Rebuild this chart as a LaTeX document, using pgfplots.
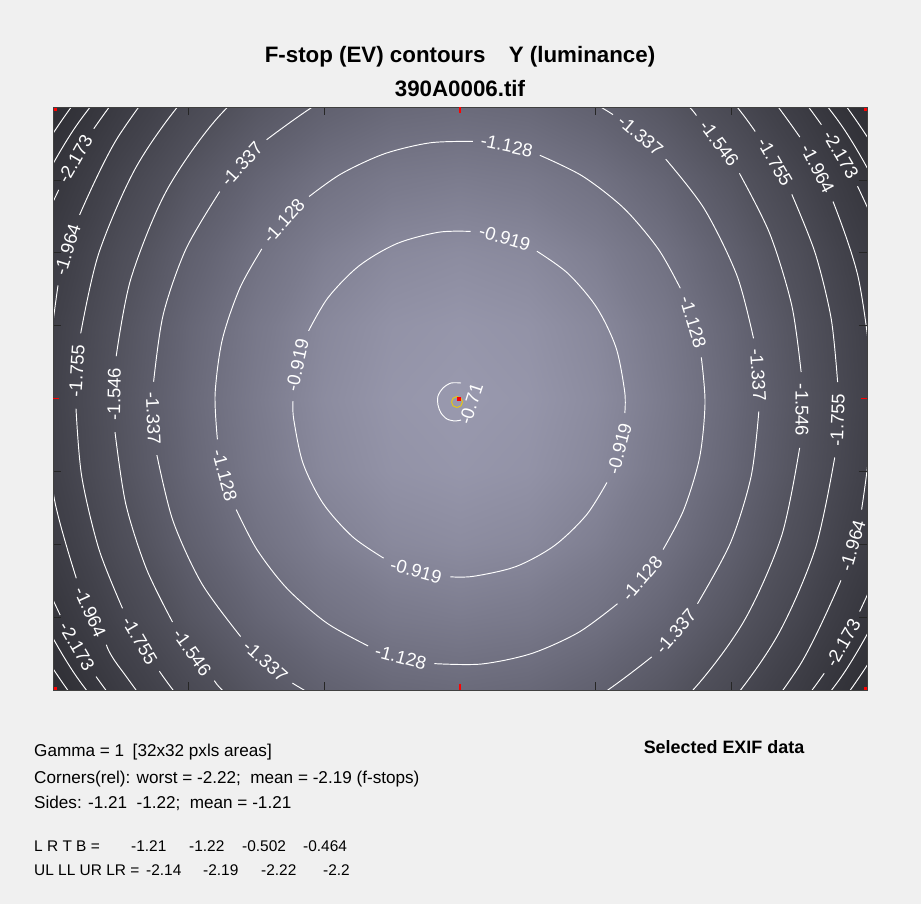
\documentclass[border=0pt]{standalone}
\usepackage{fontspec}
\setmainfont{Liberation Sans}
\usepackage{pgfplots}
\pgfplotsset{compat=1.18}
\definecolor{figbg}{RGB}{240,240,240}
\definecolor{ringy}{RGB}{230,200,20}
\begin{document}
\begin{tikzpicture}[x=1bp,y=1bp,
  lbl/.style={text=white, font=\fontsize{18.5}{18.5}\selectfont, inner sep=0pt}]
\fill[figbg] (0,0) rectangle (921,-904);
\useasboundingbox (0,0) rectangle (921,-904);
\begin{scope}[shift={(53,-107)}]
\begin{axis}[
  at={(0,0)}, anchor=north west,
  scale only axis, width=814bp, height=583bp,
  xmin=53, xmax=867, ymin=107, ymax=690, y dir=reverse,
  axis on top,
  axis line style={draw=black!75, line width=0.6pt},
  tick align=inside, major tick length=8bp,
  tick style={draw=black!85, line width=0.7pt},
  xtick={188.67,324.33,595.67,731.33},
  ytick={179.875,252.75,325.625,471.375,544.25,617.125},
  xticklabels={}, yticklabels={},
  extra x ticks={460}, extra y ticks={398.5},
  extra x tick labels={}, extra y tick labels={},
  extra tick style={tick style={draw=red, line width=1.2pt}, major tick length=6bp},
  colormap={evmap}{rgb255=(44,44,49) rgb255=(54,54,61) rgb255=(66,66,75) rgb255=(81,81,92) rgb255=(100,100,115) rgb255=(123,123,141) rgb255=(153,153,174)},
  point meta min=-2.5, point meta max=-0.7,
  cl/.style={draw=white, line width=0.95pt, smooth, mark=none},
]
\addplot[surf, shader=interp, mesh/cols=13, point meta=explicit] table[meta=c] {
x y c
53 107 -2.416
120.83 107 -2.054
188.67 107 -1.751
256.5 107 -1.516
324.33 107 -1.348
392.17 107 -1.247
460 107 -1.214
527.83 107 -1.247
595.67 107 -1.348
663.5 107 -1.516
731.33 107 -1.751
799.17 107 -2.054
867 107 -2.416
53 179.875 -2.198
120.83 179.875 -1.829
188.67 179.875 -1.526
256.5 179.875 -1.291
324.33 179.875 -1.124
392.17 179.875 -1.023
460 179.875 -0.989
527.83 179.875 -1.023
595.67 179.875 -1.124
663.5 179.875 -1.291
731.33 179.875 -1.526
799.17 179.875 -1.829
867 179.875 -2.198
53 252.75 -2.038
120.83 252.75 -1.668
188.67 252.75 -1.366
256.5 252.75 -1.131
324.33 252.75 -0.963
392.17 252.75 -0.862
460 252.75 -0.828
527.83 252.75 -0.862
595.67 252.75 -0.963
663.5 252.75 -1.131
731.33 252.75 -1.366
799.17 252.75 -1.668
867 252.75 -2.038
53 325.625 -1.941
120.83 325.625 -1.572
188.67 325.625 -1.269
256.5 325.625 -1.034
324.33 325.625 -0.867
392.17 325.625 -0.766
460 325.625 -0.732
527.83 325.625 -0.766
595.67 325.625 -0.867
663.5 325.625 -1.034
731.33 325.625 -1.269
799.17 325.625 -1.572
867 325.625 -1.941
53 398.5 -1.909
120.83 398.5 -1.540
188.67 398.5 -1.237
256.5 398.5 -1.002
324.33 398.5 -0.834
392.17 398.5 -0.734
460 398.5 -0.700
527.83 398.5 -0.734
595.67 398.5 -0.834
663.5 398.5 -1.002
731.33 398.5 -1.237
799.17 398.5 -1.540
867 398.5 -1.909
53 471.375 -1.941
120.83 471.375 -1.572
188.67 471.375 -1.269
256.5 471.375 -1.034
324.33 471.375 -0.867
392.17 471.375 -0.766
460 471.375 -0.732
527.83 471.375 -0.766
595.67 471.375 -0.867
663.5 471.375 -1.034
731.33 471.375 -1.269
799.17 471.375 -1.572
867 471.375 -1.941
53 544.25 -2.038
120.83 544.25 -1.668
188.67 544.25 -1.366
256.5 544.25 -1.131
324.33 544.25 -0.963
392.17 544.25 -0.862
460 544.25 -0.828
527.83 544.25 -0.862
595.67 544.25 -0.963
663.5 544.25 -1.131
731.33 544.25 -1.366
799.17 544.25 -1.668
867 544.25 -2.038
53 617.125 -2.198
120.83 617.125 -1.829
188.67 617.125 -1.526
256.5 617.125 -1.291
324.33 617.125 -1.124
392.17 617.125 -1.023
460 617.125 -0.989
527.83 617.125 -1.023
595.67 617.125 -1.124
663.5 617.125 -1.291
731.33 617.125 -1.526
799.17 617.125 -1.829
867 617.125 -2.198
53 690 -2.416
120.83 690 -2.054
188.67 690 -1.751
256.5 690 -1.516
324.33 690 -1.348
392.17 690 -1.247
460 690 -1.214
527.83 690 -1.247
595.67 690 -1.348
663.5 690 -1.516
731.33 690 -1.751
799.17 690 -2.054
867 690 -2.416
};
% -0.71
\addplot[cl] coordinates {(461,383) (451,383) (443,388) (438,396) (438,405) (441,413) (447,419) (455,421) (461,420)};
% -0.919
\addplot[cl] coordinates {(606.9,482.5) (586.2,515.2) (554.3,545.7) (515.8,566.6) (473.4,576.3) (450.3,576.8)};
\addplot[cl] coordinates {(383.6,558.1) (352.3,536.5) (323,503.3) (303,463.2) (293.7,419.1) (293,401)};
\addplot[cl] coordinates {(308.6,330.8) (328.2,297.4) (359.1,265.8) (396.8,243.6) (438.7,232.2) (470.6,231.4)};
\addplot[cl] coordinates {(536.9,251.2) (567.9,273.4) (596.6,307.3) (616,347.6) (624.7,391.9) (624.8,413)};
% -1.128
\addplot[cl] coordinates {(701.3,357.4) (705,403) (699.6,457.5) (683.8,509.6) (663.1,549.5)};
\addplot[cl] coordinates {(617.5,603.7) (578.8,632.2) (531.5,653.5) (481.3,664) (434.4,663.6)};
\addplot[cl] coordinates {(368.1,645.9) (326.5,622.8) (286.8,588.2) (256.9,549.5) (236.2,509.6)};
\addplot[cl] coordinates {(217.4,439.4) (215.1,393.9) (222.3,339.6) (239.8,288.2) (261.8,248.9)};
\addplot[cl] coordinates {(309.1,196.5) (341.2,173.8) (384.3,153.8) (430.1,142.8) (472.8,141.4)};
\addplot[cl] coordinates {(539.9,155.3) (582.5,176.1) (623.9,208.3) (658.2,248.9) (680.3,288.2)};
% -1.337
\addplot[cl] coordinates {(758.8,411.5) (751.1,476.4) (730.5,542.7) (697.5,603.7)};
\addplot[cl] coordinates {(651.7,656.9) (588.7,702.2) (513.9,730) (434.9,735.2) (357.2,717.9) (292.4,683.1)};
\addplot[cl] coordinates {(240.6,636.5) (201.8,583.6) (173,520.9) (156.9,455.1)};
\addplot[cl] coordinates {(153.6,381.7) (163.3,314.2) (186,248.9) (219.7,191.6)};
\addplot[cl] coordinates {(266.6,139.7) (332.7,94.8) (408.7,70) (487.7,67.8) (564.5,88.1) (613,114.6)};
\addplot[cl] coordinates {(665.7,159.1) (704.2,208.7) (736.9,275.4) (753.5,338.3)};
% -1.546
\addplot[cl] coordinates {(799.6,447.9) (781.4,536.4) (743.2,622.4) (688.1,695.2) (619.3,750.7) (541.2,785.1) (458,797) (374.8,785.1) (296.7,750.7) (227.9,695.2) (214.4,680.6)};
\addplot[cl] coordinates {(172.5,622) (146.3,568.5) (125.7,503.6) (115,432.1)};
\addplot[cl] coordinates {(116.2,356.2) (130.9,278.6) (166.3,191.1) (218.9,116.3) (286,58.1) (363.1,20.4) (446,5.2) (529.6,13.7) (608.7,45) (679.2,97.7) (696.4,115.5)};
\addplot[cl] coordinates {(739.4,173.3) (769.7,233.5) (791.7,305.2) (801.1,372)};
% -1.755
\addplot[cl] coordinates {(834.7,457.5) (815.1,549.1) (776.7,637) (721.8,712.3) (647.5,776) (555.7,819.3) (457,834) (358.3,819.3) (266.5,776) (192.2,712.3) (159.4,671.2)};
\addplot[cl] coordinates {(122.5,608.3) (98.9,549.1) (81.7,476.3) (76,408.6)};
\addplot[cl] coordinates {(80.7,333.3) (98.9,252.9) (137.3,165) (192.2,89.7) (266.5,26) (358.3,-17.3) (457,-32) (555.7,-17.3) (647.5,26) (721.8,89.7) (755.2,131.5)};
\addplot[cl] coordinates {(791.8,194.4) (815.1,252.9) (831.1,318.3) (837.6,382.1)};
% -1.964
\addplot[cl] coordinates {(840.9,580.4) (798.1,667.9) (725.2,757.2) (600.6,838.1) (459,866) (317.4,838.1) (192.8,757.2) (119.9,667.9) (106.4,644.7)};
\addplot[cl] coordinates {(76.3,578.2) (54.1,497.7) (45,401) (58,285.4)};
\addplot[cl] coordinates {(79.6,214.9) (119.9,134.1) (192.8,44.8) (317.4,-36.1) (459,-64) (600.6,-36.1) (725.2,44.8) (799.8,137)};
\addplot[cl] coordinates {(833,201.5) (858.9,280.6) (873,401) (861.6,509.5)};
% -2.173
\addplot[cl] coordinates {(37.9,240.3) (49.5,209.7) (58.8,189.8)};
\addplot[cl] coordinates {(93.8,128.7) (113.1,102.1) (142.3,68.7)};
\addplot[cl] coordinates {(775.7,68.7) (802.2,98.8) (821.4,124.7)};
\addplot[cl] coordinates {(857.5,186.2) (871.6,217.2) (885,255.8)};
\addplot[cl] coordinates {(885,546.2) (871.6,584.8) (859.6,611.5)};
\addplot[cl] coordinates {(824.2,673.3) (807.1,696.6) (781.1,727.6)};
\addplot[cl] coordinates {(136.9,727.6) (110.9,696.6) (96.1,676.6)};
\addplot[cl] coordinates {(60.2,615.1) (46.4,584.8) (33,546.2)};
% -2.382
\addplot[cl] coordinates {(6.9,277.2) (35,198.8) (75.7,126.6) (128.1,63.1) (190.4,9.5)};
\addplot[cl] coordinates {(727.6,9.5) (789.9,63.1) (842.3,126.6) (883,198.8) (911.1,277.2)};
\addplot[cl] coordinates {(911.1,524.8) (883,603.2) (842.3,675.4) (789.9,738.9) (727.6,792.5)};
\addplot[cl] coordinates {(190.4,792.5) (128.1,738.9) (75.7,675.4) (35,603.2) (6.9,524.8)};
% -2.591
\addplot[cl] coordinates {(3.1,233.4) (39,156) (87.5,85.9) (147.1,25.7)};
\addplot[cl] coordinates {(770.9,25.7) (830.5,85.9) (879,156) (914.9,233.4)};
\addplot[cl] coordinates {(914.9,568.6) (879,646) (830.5,716.1) (770.9,776.3)};
\addplot[cl] coordinates {(147.1,776.3) (87.5,716.1) (39,646) (3.1,568.6)};
% centre marker
\addplot[only marks, mark=o, mark size=5.5pt, mark options={draw=ringy, line width=1pt}] coordinates {(457,402)};
\addplot[only marks, mark=square*, mark size=1.4pt, mark options={draw=red, fill=red}] coordinates {(459,399)};
% labels
\node[lbl, rotate=72] at (axis cs:471,404) {-0.71};
\node[lbl, rotate=-16.6] at (axis cs:504.8,237.7) {-0.919};
\node[lbl, rotate=77.5] at (axis cs:297.3,365.1) {-0.919};
\node[lbl, rotate=75.6] at (axis cs:619.4,448.8) {-0.919};
\node[lbl, rotate=-15.6] at (axis cs:416,571.1) {-0.919};
\node[lbl, rotate=49.9] at (axis cs:642,578.3) {-1.128};
\node[lbl, rotate=-15] at (axis cs:400.7,657.2) {-1.128};
\node[lbl, rotate=-75] at (axis cs:224.6,475.3) {-1.128};
\node[lbl, rotate=47.9] at (axis cs:283.8,220.9) {-1.128};
\node[lbl, rotate=-11.7] at (axis cs:506.8,145.7) {-1.128};
\node[lbl, rotate=-73.1] at (axis cs:693,322) {-1.128};
\node[lbl, rotate=49.4] at (axis cs:675.7,631.6) {-1.337};
\node[lbl, rotate=-41.8] at (axis cs:265.4,661.3) {-1.337};
\node[lbl, rotate=-87.3] at (axis cs:153.3,418.4) {-1.337};
\node[lbl, rotate=47.9] at (axis cs:241.8,164.2) {-1.337};
\node[lbl, rotate=-40.3] at (axis cs:640.5,135.3) {-1.337};
\node[lbl, rotate=-86] at (axis cs:758.1,374.9) {-1.337};
\node[lbl, rotate=-90] at (axis cs:801.9,410) {-1.546};
\node[lbl, rotate=-54.5] at (axis cs:192.1,652.5) {-1.546};
\node[lbl, rotate=89.1] at (axis cs:114.1,394.1) {-1.546};
\node[lbl, rotate=-53.3] at (axis cs:719.1,143.2) {-1.546};
\node[lbl, rotate=87.8] at (axis cs:837.6,420) {-1.755};
\node[lbl, rotate=-59.7] at (axis cs:139.6,640.5) {-1.755};
\node[lbl, rotate=86.5] at (axis cs:76.8,370.7) {-1.755};
\node[lbl, rotate=-59.8] at (axis cs:774.8,162) {-1.755};
\node[lbl, rotate=73.8] at (axis cs:852.6,545.5) {-1.964};
\node[lbl, rotate=-65.6] at (axis cs:90.1,612.1) {-1.964};
\node[lbl, rotate=72.9] at (axis cs:67.4,249.4) {-1.964};
\node[lbl, rotate=-62.8] at (axis cs:817.5,168.5) {-1.964};
\node[lbl, rotate=60.2] at (axis cs:75.1,159) {-2.173};
\node[lbl, rotate=-59.6] at (axis cs:840.7,154.7) {-2.173};
\node[lbl, rotate=60.2] at (axis cs:843,643) {-2.173};
\node[lbl, rotate=-59.7] at (axis cs:76.9,646.3) {-2.173};
\addplot[only marks, mark=square*, mark size=1pt, mark options={draw=red, fill=red}] coordinates {(55,109) (865,109) (55,688) (865,688)};
\end{axis}
\end{scope}
% titles
\node[anchor=base, font=\fontsize{22.4}{26}\selectfont\bfseries] at (460,-62) {F-stop (EV) contours\hspace{1.05em}Y (luminance)};
\node[anchor=base, font=\fontsize{22.4}{26}\selectfont\bfseries] at (460,-96) {390A0006.tif};
% info text
\begin{scope}[every node/.style={anchor=base west, inner sep=0pt, font=\fontsize{17.2}{20}\selectfont}]
\node at (34,-756) {Gamma = 1\hspace{0.5em}[32x32 pxls areas]};
\node at (34,-783) {Corners(rel): worst = -2.22;\hspace{0.55em}mean = -2.19 (f-stops)};
\node at (34,-808) {Sides: -1.21\hspace{0.55em}-1.22;\hspace{0.55em}mean = -1.21};
\end{scope}
\begin{scope}[every node/.style={anchor=base west, inner sep=0pt, font=\fontsize{15.5}{18}\selectfont}]
\node at (34,-851) {L R T B =};
\node at (131,-851) {-1.21};
\node at (189,-851) {-1.22};
\node at (242,-851) {-0.502};
\node at (303,-851) {-0.464};
\node at (34,-875) {UL LL UR LR =};
\node at (146,-875) {-2.14};
\node at (203,-875) {-2.19};
\node at (261,-875) {-2.22};
\node at (323,-875) {-2.2};
\end{scope}
\node[anchor=base, font=\fontsize{18}{20}\selectfont\bfseries] at (724,-753) {Selected EXIF data};
\end{tikzpicture}
\end{document}
